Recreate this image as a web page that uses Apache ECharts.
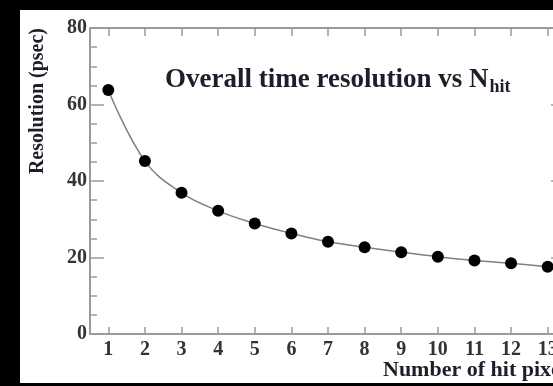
<!DOCTYPE html>
<html>
<head>
<meta charset="utf-8">
<script src="https://cdn.jsdelivr.net/npm/echarts@6/dist/echarts.min.js"></script>
<style>
  html, body { margin: 0; padding: 0; background: #000; overflow: hidden; }
  #chart { width: 580px; height: 386px; }
</style>
</head>
<body>
<div id="chart"></div>
<script>
// Number of hit pixels (x categories)
const hitPixels = ['1', '2', '3', '4', '5', '6', '7', '8', '9', '10', '11', '12', '13'];
// Overall time resolution in psec for each N_hit
const resolution = [63.8, 45.2, 36.9, 32.2, 28.9, 26.3, 24.1, 22.7, 21.4, 20.2, 19.2, 18.5, 17.6];
// Y axis range and step
const yTicks = [0, 20, 40, 60, 80];

const titleText = 'Overall time resolution vs N';
const titleSub = 'hit';
const yName = 'Resolution (psec)';
const xName = 'Number of hit pixels';

const serif = '"Liberation Serif", "Times New Roman", serif';
const axisGray = '#9a9a9a';
const inkColor = '#1e1e2a';

const chart = echarts.init(document.getElementById('chart'), null, { renderer: 'canvas' });

const frameLine = { show: true, onZero: false, lineStyle: { color: axisGray, width: 2 } };

chart.setOption({
  backgroundColor: '#000',
  animation: false,
  grid: { left: 90, top: 28, right: 14, bottom: 52 },
  graphic: [
    {
      type: 'rect', z: -10, silent: true,
      shape: { x: 20, y: 10, width: 560, height: 373 },
      style: { fill: '#fff' }
    },
    {
      type: 'text', x: 165, y: 80, z: 10,
      style: {
        text: '{t|' + titleText + '}{s|' + titleSub + '}',
        verticalAlign: 'middle',
        rich: {
          t: { fontFamily: serif, fontWeight: 'bold', fontSize: 27, fill: inkColor, lineHeight: 32 },
          s: { fontFamily: serif, fontWeight: 'bold', fontSize: 18, fill: inkColor, lineHeight: 32, verticalAlign: 'bottom', padding: [9, 0, 0, 1] }
        }
      }
    },
    {
      type: 'text', x: 38, y: 28, rotation: Math.PI / 2,
      style: {
        text: yName, fontFamily: serif, fontWeight: 'bold', fontSize: 20,
        fill: inkColor, align: 'right', verticalAlign: 'middle'
      }
    },
    {
      type: 'text', x: 383, y: 370,
      style: {
        text: xName, fontFamily: serif, fontWeight: 'bold', fontSize: 22,
        fill: inkColor, align: 'left', verticalAlign: 'middle'
      }
    }
  ],
  xAxis: [
    {
      type: 'category', data: hitPixels, position: 'bottom', boundaryGap: true,
      axisLine: frameLine,
      axisTick: { show: true, inside: true, alignWithLabel: true, interval: 0, length: 7, lineStyle: { color: axisGray, width: 1.5 } },
      axisLabel: { interval: 0, margin: 6, fontFamily: serif, fontWeight: 'bold', fontSize: 20, color: '#333' },
      splitLine: { show: false }
    },
    {
      type: 'category', data: hitPixels, position: 'top', boundaryGap: true,
      axisLine: frameLine,
      axisTick: { show: true, inside: true, alignWithLabel: true, interval: 0, length: 8, lineStyle: { color: axisGray, width: 1.5 } },
      axisLabel: { show: false },
      splitLine: { show: false }
    }
  ],
  yAxis: [
    {
      type: 'value', position: 'left',
      min: yTicks[0], max: yTicks[yTicks.length - 1], interval: yTicks[1] - yTicks[0],
      axisLine: frameLine,
      axisTick: { show: true, inside: true, length: 14, lineStyle: { color: axisGray, width: 1.5 } },
      minorTick: { show: true, splitNumber: 4, length: 7, lineStyle: { color: axisGray, width: 1.5 } },
      axisLabel: { margin: 3, fontFamily: serif, fontWeight: 'bold', fontSize: 20, color: '#333' },
      splitLine: { show: false }
    },
    {
      type: 'value', position: 'right',
      min: yTicks[0], max: yTicks[yTicks.length - 1], interval: yTicks[1] - yTicks[0],
      axisLine: frameLine,
      axisTick: { show: true, inside: true, length: 15, lineStyle: { color: axisGray, width: 1.5 } },
      minorTick: { show: true, splitNumber: 4, length: 7, lineStyle: { color: axisGray, width: 1.5 } },
      axisLabel: { show: false },
      splitLine: { show: false }
    }
  ],
  series: [
    {
      type: 'line',
      xAxisIndex: 0, yAxisIndex: 0,
      data: resolution,
      smooth: 0.4,
      symbol: 'circle',
      symbolSize: 12,
      itemStyle: { color: '#000' },
      lineStyle: { color: '#808080', width: 1.5 },
      z: 5
    }
  ]
});
</script>
</body>
</html>
